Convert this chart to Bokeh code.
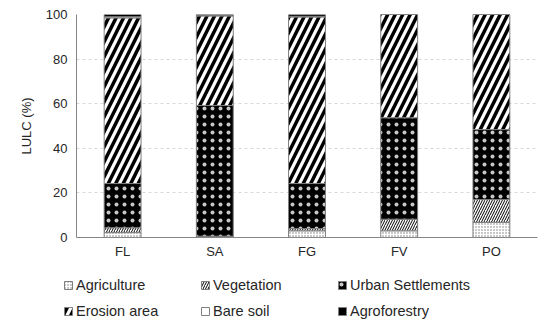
from bokeh.plotting import figure
from bokeh.models import Legend, LegendItem, FactorRange
from bokeh.embed import file_html
from bokeh.resources import INLINE

categories = ["FL", "SA", "FG", "FV", "PO"]
agriculture = [2.2, 0.3, 3.0, 3.0, 6.8]
vegetation = [2.2, 0.3, 1.0, 5.2, 10.2]
urban = [19.8, 58.6, 20.2, 45.5, 31.4]
erosion = [74.3, 40.2, 74.7, 46.3, 51.6]
bare_soil = [0.5, 0.1, 0.3, 0.0, 0.0]
agroforestry = [1.0, 0.5, 0.8, 0.0, 0.0]
series_names = ["Agriculture", "Vegetation", "Urban Settlements",
                "Erosion area", "Bare soil", "Agroforestry"]
y_ticks = [0, 20, 40, 60, 80, 100]

FONT = "Liberation Sans"
TXT = "#262626"
W = 542

p = figure(x_range=FactorRange(*categories), y_range=(0, 100),
           width=W, height=270, output_backend="svg", toolbar_location=None,
           min_border_left=76, min_border_right=5, min_border_top=14,
           min_border_bottom=33)

data = dict(cat=categories)
keys = ["agri", "veg", "urb", "ero", "bare", "agro"]
for k, v in zip(keys, [agriculture, vegetation, urban, erosion, bare_soil, agroforestry]):
    data[k] = v

styles = [
    dict(fill_color="white", hatch_pattern="dot", hatch_color="#777777", hatch_scale=3, hatch_weight=1),
    dict(fill_color="white", hatch_pattern="right_diagonal_line", hatch_color="black", hatch_scale=5, hatch_weight=1),
    dict(fill_color="black", hatch_pattern="dot", hatch_color="#c8c8c8", hatch_scale=8, hatch_weight=0.5),
    dict(fill_color="white", hatch_pattern="right_diagonal_line", hatch_color="black", hatch_scale=15, hatch_weight=3.5),
    dict(fill_color="white"),
    dict(fill_color="black"),
]

def st(s):
    return dict(fill_color=s["fill_color"], hatch_pattern=s.get("hatch_pattern", None),
                hatch_color=s.get("hatch_color", "black"), hatch_scale=s.get("hatch_scale", 12),
                hatch_weight=s.get("hatch_weight", 1))

p.vbar_stack(keys, x="cat", width=0.4, source=data,
             line_color="#7f7f7f", line_width=1,
             fill_color=[s["fill_color"] for s in styles],
             hatch_pattern=[s.get("hatch_pattern", None) for s in styles],
             hatch_color=[s.get("hatch_color", "black") for s in styles],
             hatch_scale=[s.get("hatch_scale", 12) for s in styles],
             hatch_weight=[s.get("hatch_weight", 1) for s in styles])

p.yaxis.ticker = y_ticks
p.yaxis.axis_label = "LULC (%)"
p.yaxis.axis_label_text_font = FONT
p.yaxis.axis_label_text_font_size = "13px"
p.yaxis.axis_label_text_font_style = "normal"
p.yaxis.axis_label_text_color = TXT
p.yaxis.axis_label_standoff = 9

for ax in (p.xaxis, p.yaxis):
    ax.major_tick_line_color = None
    ax.minor_tick_line_color = None
    ax.major_tick_out = 0
    ax.major_tick_in = 0
    ax.axis_line_color = "#868686"
    ax.major_label_text_font = FONT
    ax.major_label_text_font_size = "13px"
    ax.major_label_text_color = TXT
p.yaxis.major_label_standoff = 9
p.xaxis.major_label_standoff = 6

p.xgrid.grid_line_color = None
p.ygrid.grid_line_color = "#d9d9d9"
p.ygrid.grid_line_dash = "3 3"
p.outline_line_color = None
p.x_range.range_padding = 0

# legend panel (separate root so that its frame starts at the left edge)
LH = 52
q = figure(width=W, height=LH, output_backend="svg", toolbar_location=None,
           x_axis_location=None, y_axis_location=None,
           min_border_left=0, min_border_right=0, min_border_top=0, min_border_bottom=0,
           x_range=(0, 1), y_range=(0, 1))
q.grid.grid_line_color = None
q.outline_line_color = None

dummies = [q.vbar(x=[-10], top=[0], width=0.4, line_color="#7f7f7f", line_width=1, **st(s))
           for s in styles]

def make_legend(idx, y):
    return Legend(items=[LegendItem(label=series_names[i], renderers=[dummies[i]]) for i in idx],
                  orientation="horizontal", location=(63, y),
                  glyph_width=10, glyph_height=10, label_standoff=3,
                  label_width=118, label_height=20, spacing=6, padding=0, margin=0,
                  border_line_color=None, background_fill_alpha=0,
                  label_text_font=FONT, label_text_font_size="14.5px",
                  label_text_color=TXT)

q.add_layout(make_legend([0, 1, 2], 27), "center")
q.add_layout(make_legend([3, 4, 5], 1), "center")

open("out.html", "w").write(file_html([p, q], INLINE))
